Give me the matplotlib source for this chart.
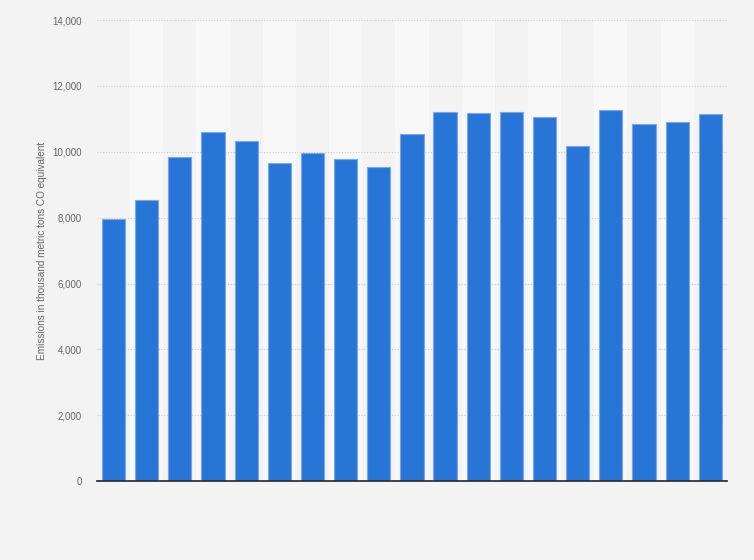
import matplotlib.pyplot as plt
from matplotlib.ticker import FuncFormatter

# emissions per year (x labels are not shown in the reference)
slots = list(range(19))
emissions = [7950, 8550, 9840, 10590, 10320, 9650, 9960, 9770, 9530, 10530,
             11200, 11170, 11200, 11070, 10190, 11260, 10860, 10920, 11140]
yticks = [0, 2000, 4000, 6000, 8000, 10000, 12000, 14000]

plt.rcParams['font.family'] = ['Liberation Sans', 'DejaVu Sans']

fig = plt.figure(figsize=(7.54, 5.6), dpi=100)
fig.patch.set_facecolor('#f3f3f3')
ax = fig.add_axes([0.1286, 0.141, 0.8355, 0.823])
ax.set_facecolor('#f3f3f3')

# alternating column bands
for i in slots:
    if i % 2 == 1:
        ax.axvspan(i - 0.5, i + 0.5, color='#f8f8f8', zorder=0, lw=0)

ax.bar(slots, emissions, width=0.7, color='#2875d8', edgecolor='#7aa9ea',
       linewidth=0.8, zorder=3)

ax.set_xlim(-0.5, len(slots) - 0.5)
ax.set_ylim(0, 14000)
ax.set_yticks(yticks)
ax.yaxis.set_major_formatter(FuncFormatter(lambda v, p: f'{int(v):,}'))
ax.grid(axis='y', color='#cccccc', linestyle=(0, (1, 1.5)), linewidth=0.8, zorder=1)
ax.set_xticks([])
ax.tick_params(axis='y', length=0, pad=11, labelsize=7, labelcolor='#666666')

for s in ['top', 'right', 'left']:
    ax.spines[s].set_visible(False)
ax.spines['bottom'].set_color('#333333')
ax.spines['bottom'].set_linewidth(1.3)
ax.spines['bottom'].set_zorder(4)

ax.set_ylabel('Emissions in thousand metric tons CO equivalent', fontsize=7.2,
              color='#666666', labelpad=4)

fig.savefig('out.png', dpi=100, facecolor=fig.get_facecolor())
